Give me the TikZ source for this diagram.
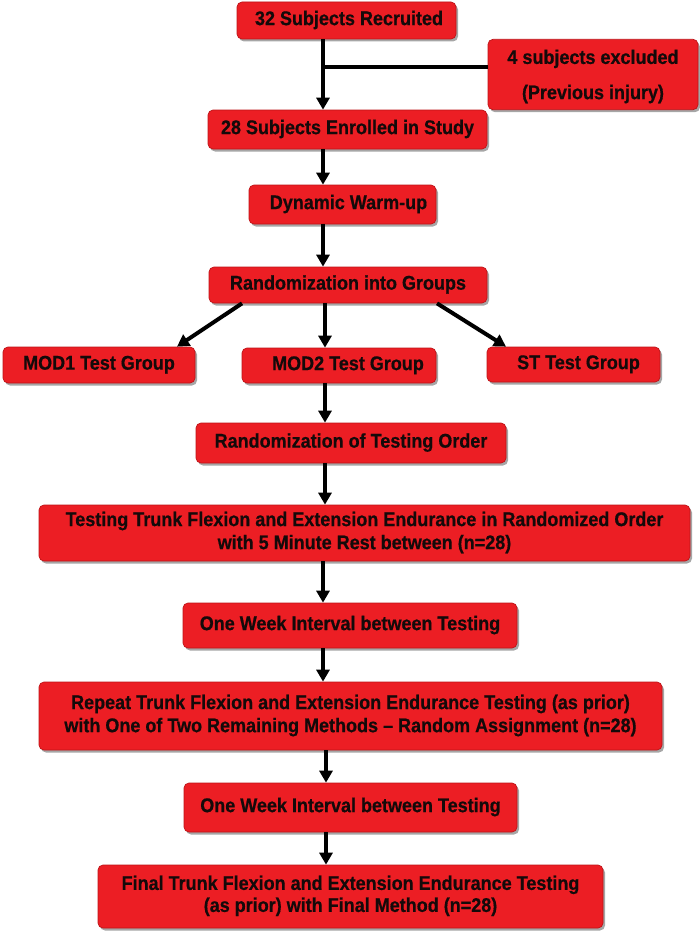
\documentclass[tikz,border=0pt]{standalone}
\usepackage{fontspec}
\setmainfont{Liberation Sans}[BoldFeatures={FakeBold=0.6}]
\usetikzlibrary{arrows.meta,shadows}
\definecolor{boxred}{RGB}{236,30,36}
\definecolor{boxedge}{RGB}{190,20,24}
\definecolor{txt}{RGB}{20,10,10}
\newcommand{\bxt}[2][21]{\scalebox{1}[1.1]{\fontsize{18}{#1}\selectfont\begin{tabular}{@{}c@{}}#2\end{tabular}}}
\begin{document}
\begin{tikzpicture}[x=1pt,y=-1pt,
  box/.style={rectangle, rounded corners=5pt, fill=boxred, draw=boxedge, line width=0.7pt,
    drop shadow={shadow xshift=2pt, shadow yshift=-2.5pt, opacity=0.35, fill=black},
    font=\bfseries\fontsize{18}{21}\selectfont, text=txt, align=center, inner sep=0pt},
  arr/.style={line width=4pt, -{Triangle[width=13pt,length=12pt]}},
  plainline/.style={line width=4pt}]
\useasboundingbox (0,0) rectangle (700,934);

\node[box, minimum width=219pt, minimum height=37pt] (n1) at (346.5,20.5) {\bxt{\hspace*{5pt}32 Subjects Recruited}};
\node[box, minimum width=210pt, minimum height=67pt] (ex) at (593,74.5) {\bxt[32]{4 subjects excluded\\(Previous injury)}};
\node[box, minimum width=279pt, minimum height=39pt] (n3) at (347.5,129.5) {\bxt{28 Subjects Enrolled in Study}};
\node[box, minimum width=187pt, minimum height=39pt] (n4) at (342.5,204.5) {\bxt{\hspace*{12pt}Dynamic Warm-up}};
\node[box, minimum width=278pt, minimum height=36pt] (n5) at (348,285) {\bxt{Randomization into Groups}};
\node[box, minimum width=192pt, minimum height=36pt] (m1) at (99,365) {\bxt{MOD1 Test Group}};
\node[box, minimum width=194pt, minimum height=35pt] (m2) at (339,365.5) {\bxt{\hspace*{18pt}MOD2 Test Group}};
\node[box, minimum width=173pt, minimum height=35pt] (st) at (573.5,364.5) {\bxt{\hspace*{10pt}ST Test Group}};
\node[box, minimum width=310pt, minimum height=40pt] (n9) at (351,443) {\bxt{Randomization of Testing Order}};
\node[box, minimum width=651pt, minimum height=56pt] (n10) at (364.5,533) {\bxt{Testing Trunk Flexion and Extension Endurance in Randomized Order\\with 5 Minute Rest between (n=28)}};
\node[box, minimum width=334pt, minimum height=45pt] (n11) at (350,625.5) {\bxt{One Week Interval between Testing}};
\node[box, minimum width=623pt, minimum height=68pt] (n12) at (350.5,716) {\bxt{Repeat Trunk Flexion and Extension Endurance Testing (as prior)\\with One of Two Remaining Methods -- Random Assignment (n=28)}};
\node[box, minimum width=333pt, minimum height=49pt] (n13) at (350.5,807.5) {\bxt{One Week Interval between Testing}};
\node[box, minimum width=505pt, minimum height=63pt] (n14) at (350.5,896.5) {\bxt[20]{Final Trunk Flexion and Extension Endurance Testing\\(as prior) with Final Method (n=28)}};

\coordinate (ax1) at (323,0);
\coordinate (ax2) at (325,0);
\coordinate (ax3) at (326,0);
\coordinate (br) at (323,67);

\draw[arr] (n1.south -| ax1) -- (n3.north -| ax1);
\draw[plainline] (br) -- (br -| ex.west);
\draw[arr] (n3.south -| ax1) -- (n4.north -| ax1);
\draw[arr] (n4.south -| ax1) -- (n5.north -| ax1);
\draw[arr] (n5.south -| ax2) -- (m2.north -| ax2);
\draw[arr] (n5.south -| 242,0) -- (m1.north -| 177,0);
\draw[arr] (n5.south -| 437,0) -- (st.north -| 506,0);
\draw[arr] (m2.south -| ax2) -- (n9.north -| ax2);
\draw[arr] (n9.south -| ax2) -- (n10.north -| ax2);
\draw[arr] (n10.south -| ax1) -- (n11.north -| ax1);
\draw[arr] (n11.south -| ax1) -- (n12.north -| ax1);
\draw[arr] (n12.south -| ax3) -- (n13.north -| ax3);
\draw[arr] (n13.south -| ax3) -- (n14.north -| ax3);
\end{tikzpicture}
\end{document}
